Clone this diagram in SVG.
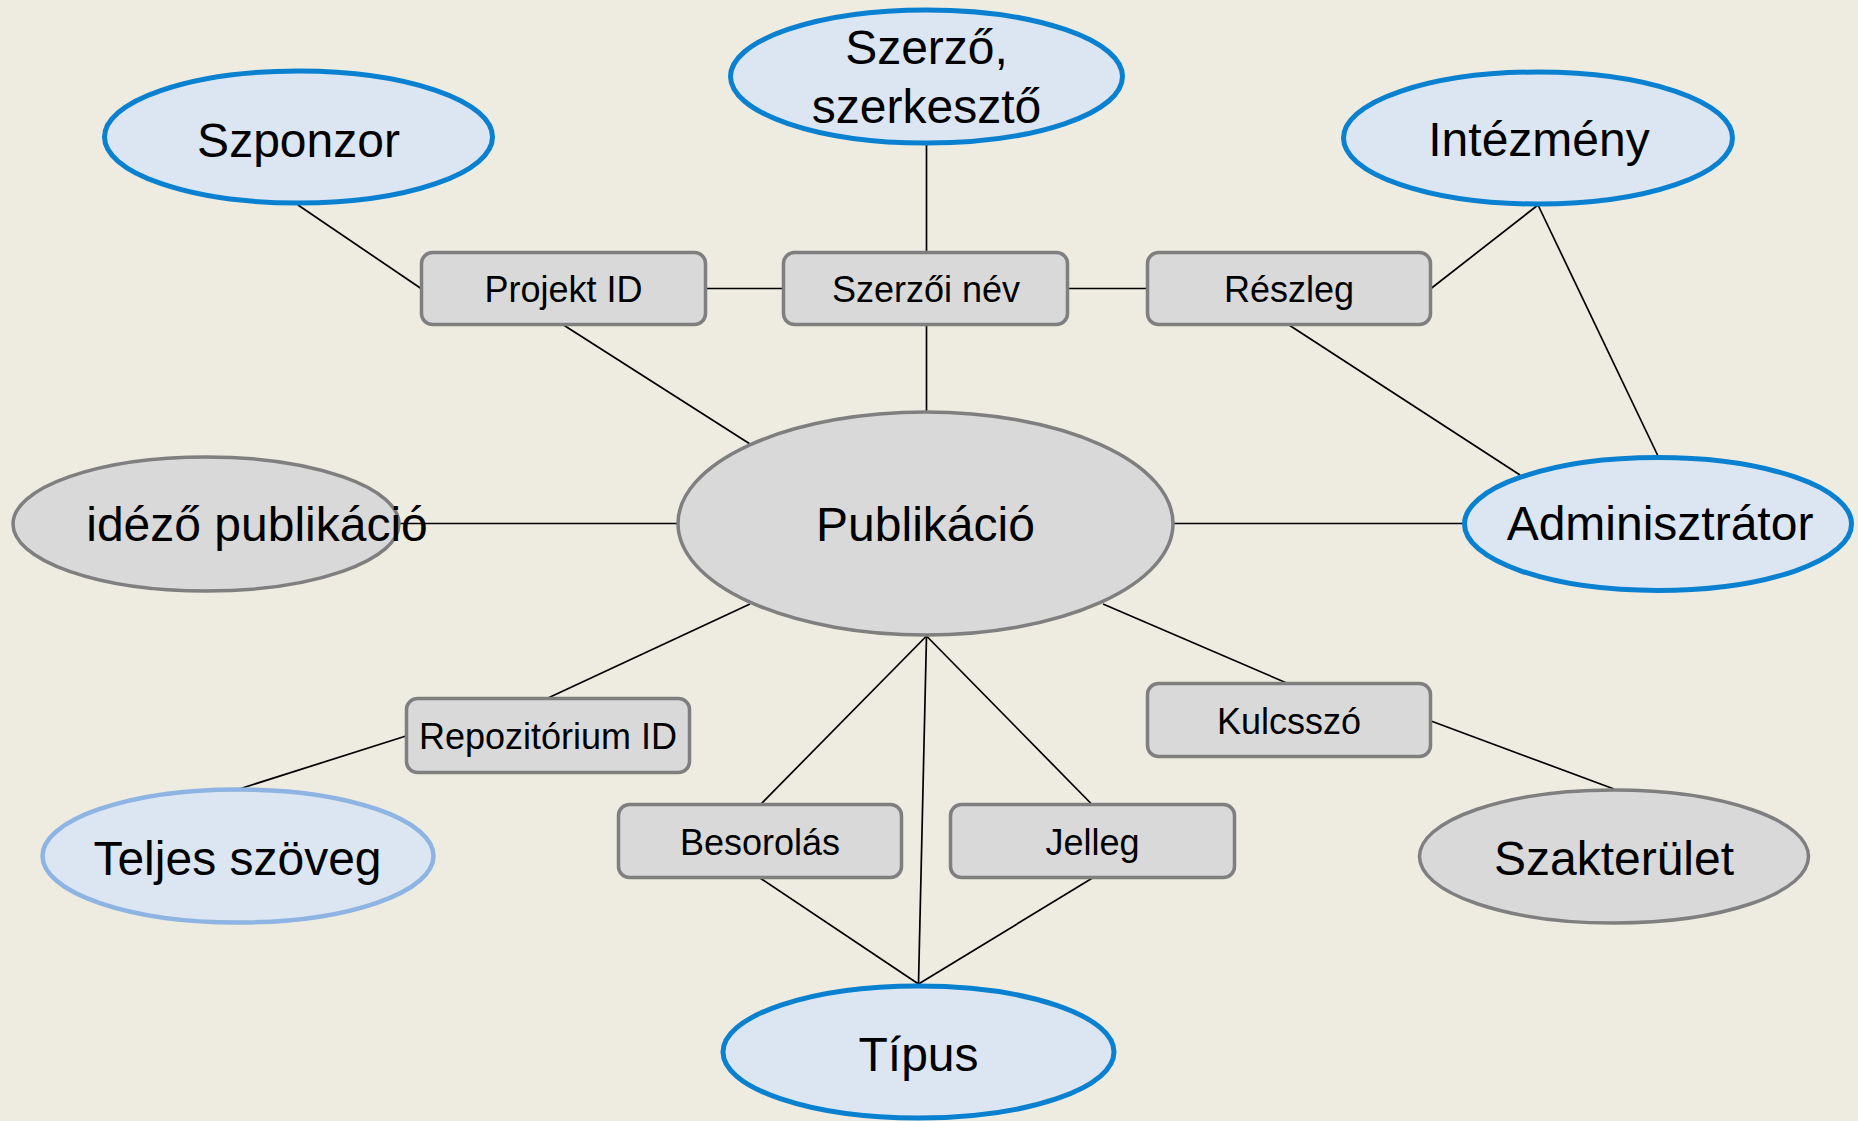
<svg xmlns="http://www.w3.org/2000/svg" width="1858" height="1121" viewBox="0 0 1858 1121">
<style>
.bg{fill:#EEECE1}
.be{fill:#DCE6F2;stroke:#0A80D0;stroke-width:5}
.le{fill:#DCE6F2;stroke:#8DB4E2;stroke-width:4.5}
.ge{fill:#D9D9D9;stroke:#7F7F7F;stroke-width:3.5}
.bx{fill:#D9D9D9;stroke:#7F7F7F;stroke-width:3.5}
.t{font-family:"Liberation Sans",Arial,sans-serif;fill:#000;text-anchor:middle}
.big{font-size:48px}
.sm{font-size:36px}
.c line{stroke:#000;stroke-width:1.7;fill:none}
</style>
<rect class="bg" x="0" y="0" width="1858" height="1121"/>
<g class="c" id="connectors">
<line x1="298" y1="205" x2="421" y2="288.5"/>
<line x1="706" y1="288.5" x2="783" y2="288.5"/>
<line x1="1068" y1="288.5" x2="1147" y2="288.5"/>
<line x1="926.5" y1="144" x2="926.5" y2="252"/>
<line x1="926.5" y1="325" x2="926.5" y2="411"/>
<line x1="563.5" y1="325" x2="750" y2="444"/>
<line x1="1431" y1="288.5" x2="1538" y2="205"/>
<line x1="1538" y1="205" x2="1658" y2="456"/>
<line x1="1289" y1="325" x2="1520" y2="475"/>
<line x1="1174" y1="523.5" x2="1463" y2="523.5"/>
<line x1="400" y1="523.5" x2="677" y2="523.5"/>
<line x1="750" y1="604" x2="548" y2="698"/>
<line x1="406" y1="736" x2="239" y2="789"/>
<line x1="926.5" y1="636" x2="760" y2="805"/>
<line x1="926.5" y1="636" x2="918.5" y2="984"/>
<line x1="926.5" y1="636" x2="1092.5" y2="805"/>
<line x1="760" y1="878" x2="918.5" y2="984"/>
<line x1="1092.5" y1="878" x2="918.5" y2="984"/>
<line x1="1103" y1="604" x2="1289" y2="684"/>
<line x1="1431" y1="721" x2="1614" y2="789"/>
</g>
<g id="szponzor"><ellipse class="be" cx="298.5" cy="137" rx="194" ry="66"/><text class="t big" x="298.5" y="157">Szponzor</text></g>
<g id="szerzo"><ellipse class="be" cx="926.5" cy="76.5" rx="196" ry="66.5"/><text class="t big" x="926.5" y="64">Szerző,</text><text class="t big" x="926.5" y="122.5">szerkesztő</text></g>
<g id="intezmeny"><ellipse class="be" cx="1538" cy="138" rx="194.5" ry="66"/><text class="t big" x="1539" y="156">Intézmény</text></g>
<g id="projektid"><rect class="bx" x="421.5" y="252.5" width="284" height="72" rx="11"/><text class="t sm" x="563.5" y="301.5">Projekt ID</text></g>
<g id="szerzoinev"><rect class="bx" x="783.5" y="252.5" width="284" height="72" rx="11"/><text class="t sm" x="926" y="301.5">Szerzői név</text></g>
<g id="reszleg"><rect class="bx" x="1147.5" y="252.5" width="283" height="72" rx="11"/><text class="t sm" x="1289" y="301.5">Részleg</text></g>
<g id="publikacio"><ellipse class="ge" cx="925.5" cy="523.5" rx="247.5" ry="111.5"/><text class="t big" x="925.5" y="541">Publikáció</text></g>
<g id="idezo"><ellipse class="ge" cx="206" cy="524" rx="193" ry="67"/><text class="t big" x="257" y="541">idéző publikáció</text></g>
<g id="adminisztrator"><ellipse class="be" cx="1658" cy="524" rx="193.5" ry="66.5"/><text class="t big" x="1660" y="540">Adminisztrátor</text></g>
<g id="repozitorium"><rect class="bx" x="406.5" y="698.5" width="283" height="74" rx="11"/><text class="t sm" x="548" y="748.5">Repozitórium ID</text></g>
<g id="teljes"><ellipse class="le" cx="238" cy="856" rx="195.5" ry="66.5"/><text class="t big" x="237.5" y="875">Teljes szöveg</text></g>
<g id="kulcsszo"><rect class="bx" x="1147.5" y="683.5" width="283" height="73" rx="11"/><text class="t sm" x="1289" y="733.5">Kulcsszó</text></g>
<g id="besorolas"><rect class="bx" x="618.5" y="804.5" width="283" height="73" rx="11"/><text class="t sm" x="760" y="854.5">Besorolás</text></g>
<g id="jelleg"><rect class="bx" x="950.5" y="804.5" width="284" height="73" rx="11"/><text class="t sm" x="1092.5" y="854.5">Jelleg</text></g>
<g id="szakterulet"><ellipse class="ge" cx="1614" cy="856.5" rx="194.5" ry="66.5"/><text class="t big" x="1614" y="875">Szakterület</text></g>
<g id="tipus"><ellipse class="be" cx="918.5" cy="1052" rx="195.5" ry="66"/><text class="t big" x="918.5" y="1071">Típus</text></g>
</svg>
